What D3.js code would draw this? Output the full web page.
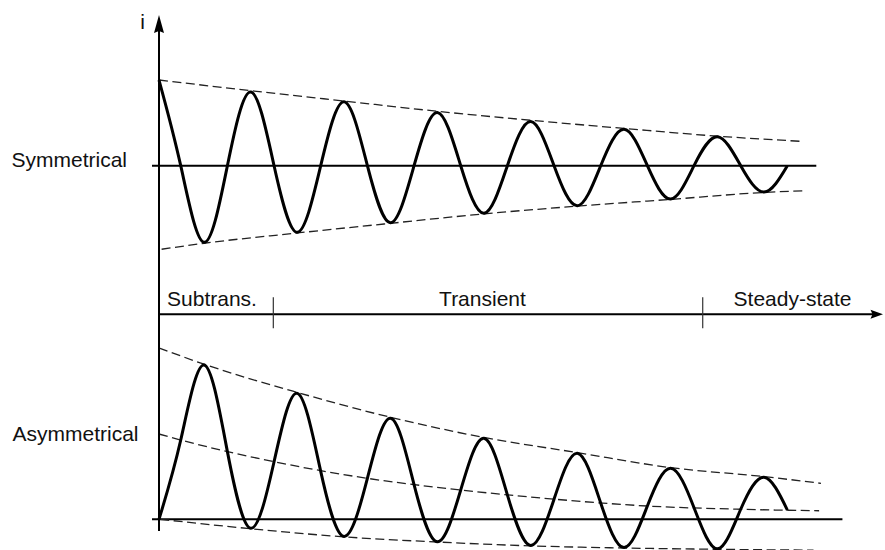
<!DOCTYPE html>
<html>
<head>
<meta charset="utf-8">
<script src="https://cdn.jsdelivr.net/npm/d3@7"></script>
<style>
  html, body { margin: 0; padding: 0; background: #fff; }
  svg { display: block; }
  text { font-family: "Liberation Sans", Arial, Helvetica, sans-serif; fill: #111; }
</style>
</head>
<body>
<svg id="chart" width="885" height="550"></svg>
<script>
// ---------------- data (time in cycles, current in per-unit) ----------------
const waveT = [0.017, 0.25, 0.5, 0.75, 1, 1.25, 1.5, 1.75, 2, 2.25, 2.5, 2.75, 3, 3.25,
               3.5, 3.75, 4, 4.25, 4.5, 4.75, 5, 5.25, 5.5, 5.75, 6, 6.25, 6.5, 6.75];
const symCurrent = [1.0, 0, -0.894, 0, 0.86, 0, -0.777, 0, 0.745, 0, -0.665, 0, 0.62, 0,
                    -0.555, 0, 0.515, 0, -0.467, 0, 0.425, 0, -0.389, 0, 0.337, 0, -0.307, 0];
const asymCurrent = [0, 0.925, 1.80, 0.79, -0.105, 0.672, 1.47, 0.56, -0.2, 0.478, 1.179, 0.405,
                     -0.262, 0.342, 0.945, 0.285, -0.305, 0.235, 0.77, 0.19, -0.33, 0.155, 0.595,
                     0.135, -0.345, 0.117, 0.49, 0.108];

const symEnvUpperT = [0.017, 1, 2, 3, 4, 5, 6, 6.885];
const symEnvUpper  = [1.0, 0.875, 0.755, 0.635, 0.53, 0.435, 0.345, 0.285];
const symEnvLowerT = [0.045, 0.5, 1.5, 2.5, 3.5, 4.5, 5.5, 6.5, 6.94];
const symEnvLower  = [-0.975, -0.905, -0.785, -0.672, -0.562, -0.472, -0.393, -0.312, -0.292];

const asymEnvUpperT = [0.017, 0.5, 1.5, 2.5, 3.5, 4.5, 5.5, 6.5, 7.11];
const asymEnvUpper  = [2.0, 1.81, 1.48, 1.19, 0.955, 0.778, 0.603, 0.498, 0.42];
const asymDcT = [0.017, 0.25, 1.25, 2.25, 3.25, 4.25, 5.25, 6.25, 7.09];
const asymDc  = [0.995, 0.925, 0.672, 0.478, 0.342, 0.235, 0.155, 0.117, 0.1];
const asymEnvLowerT = [0.03, 1, 2, 3, 4, 5, 6, 7.03];
const asymEnvLower  = [0, -0.11, -0.205, -0.265, -0.31, -0.335, -0.35, -0.36];

const phaseNames = ["Subtrans.", "Transient", "Steady-state"];
const phaseLabelT = [0.585, 3.483, 6.805];
const phaseBoundaryT = [1.242, 5.843];
const panelLabels = ["Symmetrical", "Asymmetrical"];
const axisLabel = "i";

// ---------------- layout ----------------
const svg = d3.select("#chart");
const axisX = 159, timeAxisY = 314.3;
const x = d3.scaleLinear().domain([0, 7]).range([157.4, 810.7]);
const yTop = d3.scaleLinear().domain([-1, 1]).range([251.4, 80]);
const yBot = d3.scaleLinear().domain([-1, 1]).range([605, 433.6]);

const zip = (ts, vs) => ts.map((t, i) => [t, vs[i]]);
const lineOf = (yScale, curve) => d3.line().x(d => x(d[0])).y(d => yScale(d[1])).curve(curve);

// zero lines
svg.append("line").attr("x1", axisX - 7).attr("x2", x(7.06))
  .attr("y1", yTop(0)).attr("y2", yTop(0)).attr("stroke", "#000").attr("stroke-width", 2);
svg.append("line").attr("x1", axisX - 7).attr("x2", x(7.34))
  .attr("y1", yBot(0)).attr("y2", yBot(0)).attr("stroke", "#000").attr("stroke-width", 2);

// envelopes (dashed)
const dashed = (data, yScale) => svg.append("path")
  .attr("d", lineOf(yScale, d3.curveMonotoneX)(data))
  .attr("fill", "none").attr("stroke", "#222").attr("stroke-width", 1.3)
  .attr("stroke-dasharray", "9,4.5");
dashed(zip(symEnvUpperT, symEnvUpper), yTop);
dashed(zip(symEnvLowerT, symEnvLower), yTop);
dashed(zip(asymEnvUpperT, asymEnvUpper), yBot);
dashed(zip(asymDcT, asymDc), yBot);
dashed(zip(asymEnvLowerT, asymEnvLower), yBot);

// waveforms
svg.append("path").attr("d", lineOf(yTop, d3.curveNatural)(zip(waveT, symCurrent)))
  .attr("fill", "none").attr("stroke", "#000").attr("stroke-width", 3).attr("stroke-linejoin", "round");
svg.append("path").attr("d", lineOf(yBot, d3.curveNatural)(zip(waveT, asymCurrent)))
  .attr("fill", "none").attr("stroke", "#000").attr("stroke-width", 3).attr("stroke-linejoin", "round");

// vertical axis with arrow
svg.append("line").attr("x1", axisX).attr("x2", axisX).attr("y1", 531).attr("y2", 30)
  .attr("stroke", "#000").attr("stroke-width", 2);
svg.append("path").attr("d", `M${axisX},15 L${axisX + 5},33 L${axisX},31 L${axisX - 5},33 Z`)
  .attr("fill", "#000");
svg.append("text").attr("x", 145).attr("y", 28.5).attr("text-anchor", "end")
  .attr("font-size", 21).text(axisLabel);

// time axis with arrow
svg.append("line").attr("x1", axisX).attr("x2", 874).attr("y1", timeAxisY).attr("y2", timeAxisY)
  .attr("stroke", "#000").attr("stroke-width", 2);
svg.append("path").attr("d", `M883,${timeAxisY} L870.5,${timeAxisY - 4.5} L872.5,${timeAxisY} L870.5,${timeAxisY + 4.5} Z`)
  .attr("fill", "#000");
svg.selectAll("line.phase").data(phaseBoundaryT).enter().append("line")
  .attr("class", "phase")
  .attr("x1", d => x(d)).attr("x2", d => x(d))
  .attr("y1", timeAxisY - 17).attr("y2", timeAxisY + 14)
  .attr("stroke", "#333").attr("stroke-width", 1.2);
svg.selectAll("text.phase").data(phaseNames).enter().append("text")
  .attr("class", "phase")
  .attr("x", (d, i) => x(phaseLabelT[i])).attr("y", 306)
  .attr("text-anchor", "middle").attr("font-size", 21).text(d => d);

// panel labels
svg.append("text").attr("x", 11.5).attr("y", 167.3).attr("font-size", 21).text(panelLabels[0]);
svg.append("text").attr("x", 12.5).attr("y", 440.7).attr("font-size", 21).text(panelLabels[1]);
</script>
</body>
</html>
